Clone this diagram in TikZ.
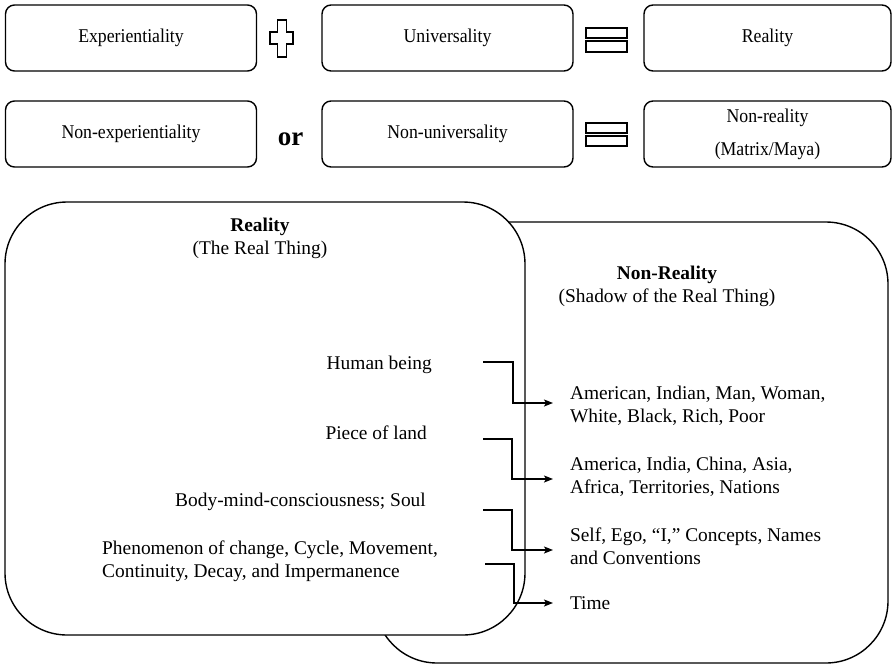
\documentclass[tikz,border=0pt]{standalone}
\usepackage{fontspec}
\setmainfont{Liberation Serif}
\newfontfamily\narrowserif[FakeStretch=0.91]{Liberation Serif}
\usetikzlibrary{arrows.meta}
\begin{document}
\begin{tikzpicture}[x=1pt,y=-1pt,
  termbox/.style={draw, line width=1.4pt, rounded corners=9pt,
    minimum width=251pt, minimum height=66pt, inner sep=0pt,
    font=\narrowserif\fontsize{19.5}{33}\selectfont, align=center},
  realm/.style={draw, line width=1.4pt, rounded corners=62pt, fill=white, inner sep=0pt},
  heading/.style={font=\fontsize{19.4}{23}\selectfont, align=center, inner sep=0pt},
  itemleft/.style={font=\fontsize{19.4}{23}\selectfont, inner sep=0pt, anchor=east},
  itemright/.style={font=\fontsize{19.4}{23}\selectfont, inner sep=0pt, anchor=west,
    align=left, outer xsep=17pt},
  sign/.style={draw, line width=1.6pt, fill=white},
  link/.style={line width=1.3pt, -{Stealth[length=9pt,width=7pt,inset=2pt]}}
]
\useasboundingbox (0,0) rectangle (895,665);

% equation rows
\node[termbox] (exp)    at (131,38)   {Experientiality};
\node[termbox] (univ)   at (447.5,38) {Universality};
\node[termbox, minimum width=247pt] (real) at (767.5,38) {Reality};
\node[termbox] (nexp)   at (131,134)  {Non-experientiality};
\node[termbox] (nuniv)  at (447.5,134){Non-universality};
\node[termbox, minimum width=247pt] (nreal) at (767.5,134) {Non-reality\\(Matrix/Maya)};

% operators
\draw[sign] (277.5,20) -- (286.5,20) -- (286.5,32) -- (293,32) -- (293,44) -- (286.5,44)
  -- (286.5,57) -- (277.5,57) -- (277.5,44) -- (270,44) -- (270,32) -- (277.5,32) -- cycle;
\draw[sign] (586,28) rectangle (627,38);
\draw[sign] (586,41) rectangle (627,52);
\node[font=\fontsize{27}{30}\selectfont\bfseries, inner sep=0pt, anchor=base] (or) at (290.5,145) {or};
\draw[sign] (586,123) rectangle (627,133);
\draw[sign] (586,136) rectangle (627,146);

% the two realms
\node[realm, minimum width=513pt, minimum height=441pt] (shadow) at (631.5,442.5) {};
\node[realm, minimum width=520pt, minimum height=433pt] (thing)  at (265,418.5) {};

\node[heading] (thinghead)  at (260,238.5) {\textbf{Reality}\\(The Real Thing)};
\node[heading] (shadowhead) at (667,286.5) {\textbf{Non-Reality}\\(Shadow of the Real Thing)};

% items on the real side
\node[itemleft] (human) at (432,365) {Human being};
\node[itemleft] (land)  at (427,433) {Piece of land};
\node[itemleft] (body)  at (426,502) {Body-mind-consciousness; Soul};
\node[itemleft, anchor=west, align=left] (change) at (102,561.5)
  {Phenomenon of change, Cycle, Movement,\\Continuity, Decay, and Impermanence};

% items on the shadow side
\node[itemright] (labels)  at (553,406) {American, Indian, Man, Woman,\\White, Black, Rich, Poor};
\node[itemright] (nations) at (553,477) {America, India, China, Asia,\\Africa, Territories, Nations};
\node[itemright] (self)    at (553,546) {Self, Ego, ``I,'' Concepts, Names\\and Conventions};
\node[itemright] (time)    at (553,603) {Time};

% arrow starts
\coordinate (s1) at (483,362);
\coordinate (s2) at (483,439);
\coordinate (s3) at (483,510);
\coordinate (s4) at (485,564);

\draw[link] (s1) -- ++(30,0) |- ([yshift=3pt]labels.west);
\draw[link] (s2) -- ++(29,0) |- ([yshift=-2pt]nations.west);
\draw[link] (s3) -- ++(29,0) |- ([yshift=-4pt]self.west);
\draw[link] (s4) -- ++(29,0) |- (time.west);
\end{tikzpicture}
\end{document}
